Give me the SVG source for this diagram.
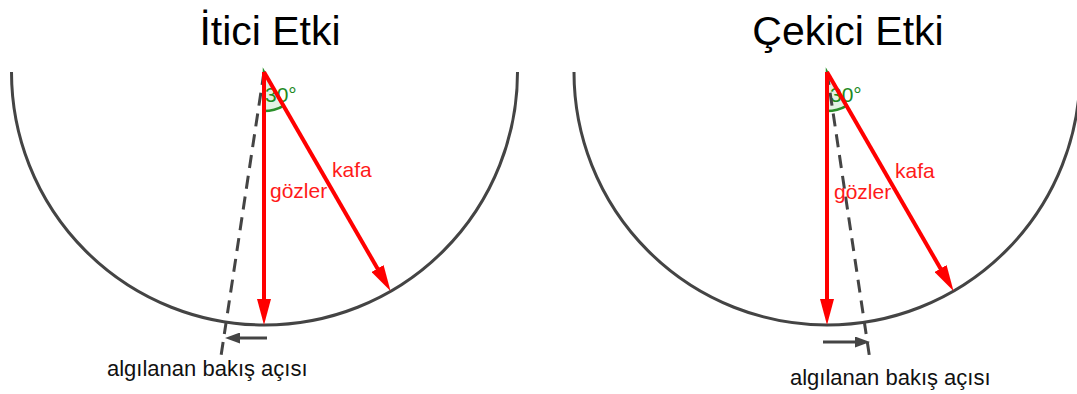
<svg xmlns="http://www.w3.org/2000/svg" width="1077" height="394" viewBox="0 0 1077 394">
<style>
.title{font-family:"Liberation Sans",Arial,sans-serif;font-size:41px;fill:#000}
.lbl{font-family:"Liberation Sans",Arial,sans-serif;font-size:21px;fill:#ff1a1a}
.deg{font-family:"Liberation Sans",Arial,sans-serif;font-size:21px;fill:#1e8a1e}
.cap{font-family:"Liberation Sans",Arial,sans-serif;font-size:22px;fill:#111}
.arc{fill:none;stroke:#444;stroke-width:3}
.red{stroke:#ff0000;stroke-width:4;fill:none}
.dash{stroke:#444;stroke-width:3;stroke-dasharray:13 8;fill:none}
.gray{stroke:#444;stroke-width:3;fill:none}
.ang{fill:#e3f2e3;stroke:#2a8f2a;stroke-width:2.5}
</style>
<defs>
<marker id="rh" markerWidth="26" markerHeight="14" refX="6" refY="7" orient="auto" markerUnits="userSpaceOnUse" viewBox="0 0 26 14">
<path d="M0,0 L26,7 L0,14 Z" fill="#ff0000"/>
</marker>
<marker id="gh" markerWidth="15" markerHeight="11" refX="3" refY="5.5" orient="auto" markerUnits="userSpaceOnUse" viewBox="0 0 15 11">
<path d="M0,0 L15,5.5 L0,11 Z" fill="#444"/>
</marker>
</defs>
<g id="left">
<text class="title" x="270" y="45" text-anchor="middle">İtici Etki</text>
<path class="arc" d="M11.5,72 A253,253 0 0 0 517.5,72"/>
<path class="ang" d="M264,72 L264,111 A39,39 0 0 0 283.5,105.8 Z"/>
<text class="deg" x="265" y="102">30°</text>
<line class="dash" x1="264" y1="72" x2="221" y2="356"/>
<line class="red" x1="264" y1="72" x2="264" y2="305" marker-end="url(#rh)"/>
<line class="red" x1="264" y1="72" x2="380.5" y2="273.7" marker-end="url(#rh)"/>
<text class="lbl" x="270" y="198">gözler</text>
<text class="lbl" x="332" y="177">kafa</text>
<line class="gray" x1="267" y1="338" x2="237" y2="338" marker-end="url(#gh)"/>
<text class="cap" x="107" y="376">algılanan bakış açısı</text>
</g>
<g id="right">
<text class="title" x="848" y="45" text-anchor="middle">Çekici Etki</text>
<path class="arc" d="M574,72 A253,253 0 0 0 1080,72"/>
<path class="ang" d="M827,72 L827,111 A39,39 0 0 0 846.5,105.8 Z"/>
<text class="deg" x="830" y="102">30°</text>
<line class="dash" x1="827" y1="72" x2="870" y2="360"/>
<line class="red" x1="827" y1="72" x2="827" y2="305" marker-end="url(#rh)"/>
<line class="red" x1="827" y1="72" x2="943.5" y2="273.7" marker-end="url(#rh)"/>
<text class="lbl" x="834" y="199">gözler</text>
<text class="lbl" x="895" y="178">kafa</text>
<line class="gray" x1="823" y1="342" x2="858" y2="342" marker-end="url(#gh)"/>
<text class="cap" x="790" y="385">algılanan bakış açısı</text>
</g>
</svg>
